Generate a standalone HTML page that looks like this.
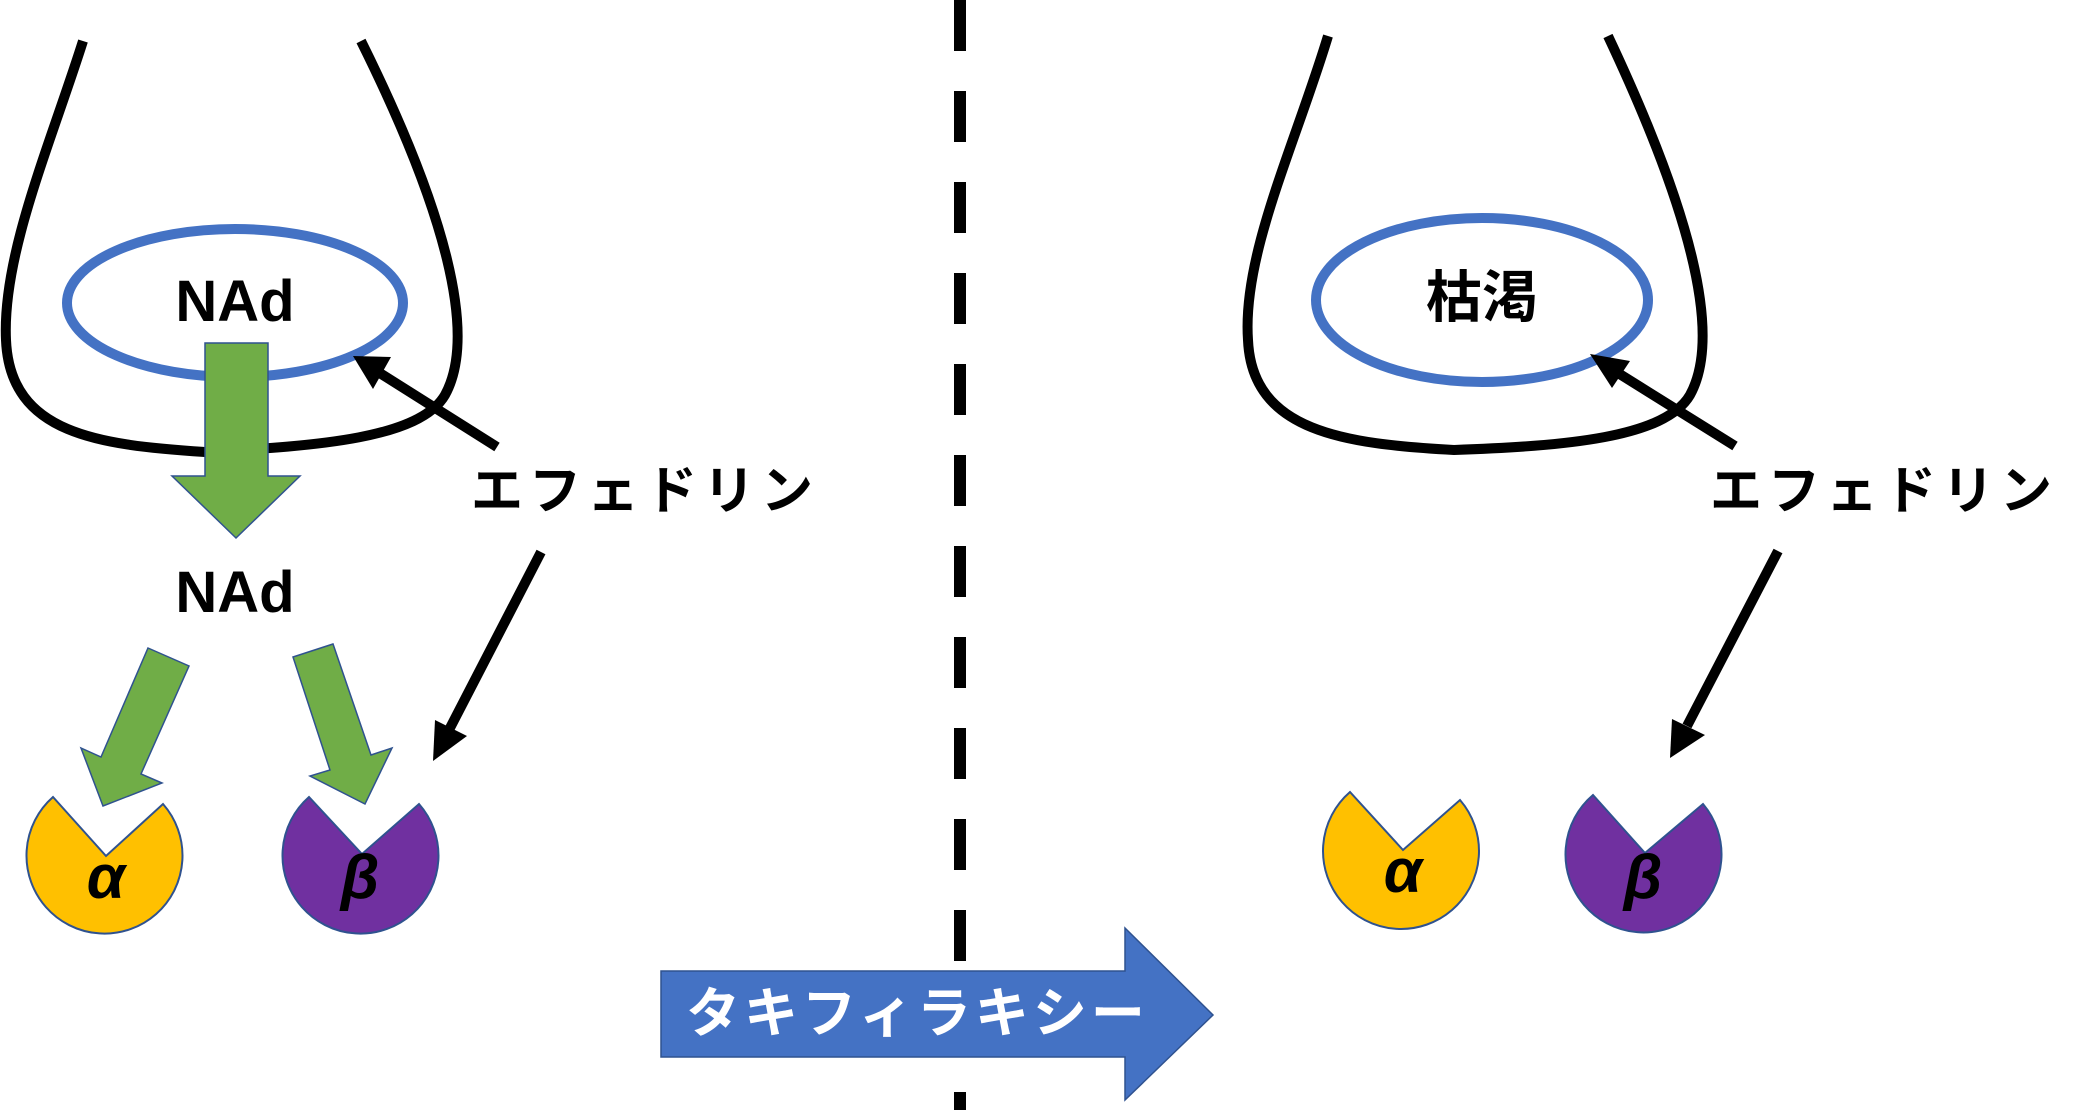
<!DOCTYPE html>
<html><head><meta charset="utf-8"><style>
html,body{margin:0;padding:0;background:#fff;}
svg{display:block;}
text{font-family:"Liberation Sans","Noto Sans CJK JP",sans-serif;font-weight:bold;}
</style></head><body>
<svg width="2091" height="1110" viewBox="0 0 2091 1110" xmlns="http://www.w3.org/2000/svg">
<line x1="960" y1="0" x2="960" y2="1110" stroke="#000" stroke-width="12" stroke-dasharray="51 40"/>

<!-- LEFT -->
<path d="M 83 41 C 50 145, 2 255, 6 340 C 10 435, 100 445, 205 452 C 320 446, 420 438, 445 395 C 478 335, 445 210, 361 41" fill="none" stroke="#000" stroke-width="10"/>
<ellipse cx="235" cy="303" rx="168" ry="74" fill="none" stroke="#4472C4" stroke-width="10"/>
<text x="235" y="321" font-size="58" text-anchor="middle">NAd</text>
<polygon points="205,343 268,343 268,476 300,476 236,538 172,476 205,476" fill="#70AD47" stroke="#2F528F" stroke-width="1.5"/>
<text x="235" y="612" font-size="58" text-anchor="middle">NAd</text>
<text x="471" y="509" font-size="52" letter-spacing="6">エフェドリン</text>
<line x1="497" y1="447" x2="375" y2="370" stroke="#000" stroke-width="10"/>
<polygon points="353,356 373,389 391,357" fill="#000"/>
<line x1="541" y1="552" x2="450" y2="728" stroke="#000" stroke-width="10"/>
<polygon points="433,761 435,720 467,736" fill="#000"/>
<polygon points="148,648 189,666 141,774 162,783 103,806 81,748 101,757" fill="#70AD47" stroke="#2F528F" stroke-width="1.5"/>
<polygon points="293,657 333,644 371,755 392,748 365,804 310,776 330,770" fill="#70AD47" stroke="#2F528F" stroke-width="1.5"/>
<path d="M 163 804 A 78 78 0 1 1 53 797 L 106 856 Z" fill="#FFC000" stroke="#2F528F" stroke-width="2"/>
<text x="106" y="898" font-size="62" text-anchor="middle" font-style="italic" font-family="Liberation Serif,serif">α</text>
<path d="M 419 804 A 78 78 0 1 1 309 797 L 362 854 Z" fill="#7030A0" stroke="#2F528F" stroke-width="2"/>
<text x="360" y="898" font-size="62" text-anchor="middle" font-style="italic" font-family="Liberation Serif,serif">β</text>

<!-- RIGHT -->
<path d="M 1328 36 C 1295 145, 1242 255, 1248 340 C 1252 432, 1345 444, 1454 450 C 1565 446, 1665 438, 1690 395 C 1723 335, 1690 210, 1608 36" fill="none" stroke="#000" stroke-width="10"/>
<ellipse cx="1482" cy="300" rx="166" ry="82" fill="none" stroke="#4472C4" stroke-width="10"/>
<text x="1482" y="317" font-size="56" text-anchor="middle">枯渇</text>
<text x="1710" y="509" font-size="52" letter-spacing="6">エフェドリン</text>
<line x1="1735" y1="446" x2="1610" y2="368" stroke="#000" stroke-width="10"/>
<polygon points="1590,354 1612,388 1630,361" fill="#000"/>
<line x1="1778" y1="551" x2="1687" y2="726" stroke="#000" stroke-width="10"/>
<polygon points="1670,758 1672,719 1705,735" fill="#000"/>
<path d="M 1460 800 A 78 78 0 1 1 1350 792 L 1403 850 Z" fill="#FFC000" stroke="#2F528F" stroke-width="2"/>
<text x="1403" y="892" font-size="62" text-anchor="middle" font-style="italic" font-family="Liberation Serif,serif">α</text>
<path d="M 1703 804 A 78 78 0 1 1 1593 795 L 1645 853 Z" fill="#7030A0" stroke="#2F528F" stroke-width="2"/>
<text x="1643" y="898" font-size="62" text-anchor="middle" font-style="italic" font-family="Liberation Serif,serif">β</text>

<!-- bottom blue arrow -->
<polygon points="661,971 1125,971 1125,928 1213,1015 1125,1100 1125,1057 661,1057" fill="#4472C4" stroke="#2F528F" stroke-width="1.5"/>
<text x="686" y="1032" font-size="54" fill="#fff" letter-spacing="4">タキフィラキシー</text>
</svg>
</body></html>
